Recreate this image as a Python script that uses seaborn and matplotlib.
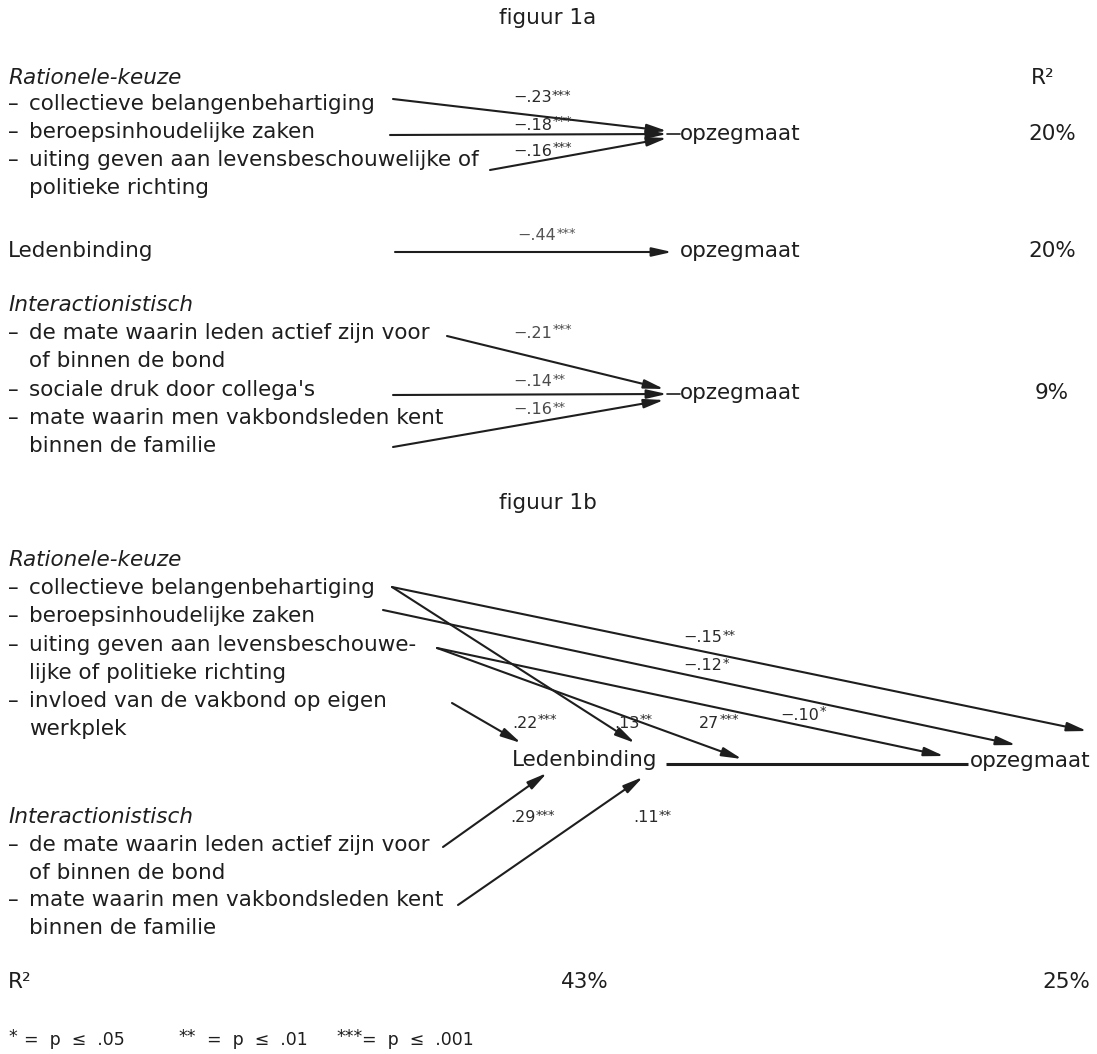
import matplotlib
matplotlib.use("Agg")
import matplotlib.pyplot as plt
import seaborn as sns

sns.set_theme(style="white")
plt.rcParams["font.family"] = ["DejaVu Sans"]

# ---- data -------------------------------------------------------------
titles = ["figuur 1a", "figuur 1b"]

# figure 1a: three separate regressions on "opzegmaat"
rational_1a = ["collectieve belangenbehartiging",
               "beroepsinhoudelijke zaken",
               "uiting geven aan levensbeschouwelijke of\npolitieke richting"]
rational_1a_beta = [-0.23, -0.18, -0.16]
rational_1a_sig = ["***", "***", "***"]

binding_1a_beta = [-0.44]
binding_1a_sig = ["***"]

interact_1a = ["de mate waarin leden actief zijn voor\nof binnen de bond",
               "sociale druk door collega's",
               "mate waarin men vakbondsleden kent\nbinnen de familie"]
interact_1a_beta = [-0.21, -0.14, -0.16]
interact_1a_sig = ["***", "**", "**"]

r2_1a = [20, 20, 9]

# figure 1b: path model
rational_1b = ["collectieve belangenbehartiging",
               "beroepsinhoudelijke zaken",
               "uiting geven aan levensbeschouwe-\nlijke of politieke richting",
               "invloed van de vakbond op eigen\nwerkplek"]
interact_1b = ["de mate waarin leden actief zijn voor\nof binnen de bond",
               "mate waarin men vakbondsleden kent\nbinnen de familie"]
# direct effects on opzegmaat
direct_1b_beta = [-0.15, -0.12, -0.10]
direct_1b_sig = ["**", "*", "*"]
# effects on Ledenbinding (printed labels as they appear in the figure)
binding_1b_beta = [0.22, 0.13, 0.27, 0.29, 0.11]
binding_1b_text = [".22", ".13", "27", ".29", ".11"]
binding_1b_sig = ["***", "**", "***", "***", "**"]
r2_1b = [43, 25]

foot_marks = ["*", "**", "***"]
foot_levels = [".05", ".01", ".001"]


def coef_num(b):
    return ("\u2212" if b < 0 else "") + f"{abs(b):.2f}"[1:]


# ---- figure -----------------------------------------------------------
W, H = 1097, 1054
fig = plt.figure(figsize=(W / 100, H / 100), dpi=100)
ax = fig.add_axes([0, 0, 1, 1])
ax.set_xlim(0, W)
ax.set_ylim(H, 0)
ax.axis("off")
sns.despine(ax=ax, left=True, bottom=True)
renderer = fig.canvas.get_renderer()

INK = "#1e1e1e"
FS = 15.5
FS_C = 11.5
LH = 28.3


def txt(x, y, s, **kw):
    kw.setdefault("fontsize", FS)
    kw.setdefault("color", INK)
    kw.setdefault("va", "center")
    return ax.text(x, y, s, **kw)


def item(y, s):
    txt(8, y, "\u2013")
    for k, ln in enumerate(s.split("\n")):
        txt(29, y + k * LH, ln)


def arrow(p0, p1, lw=1.5, color=INK):
    style = "-|>,head_length=1.2,head_width=0.27"
    ax.annotate("", xy=p1, xytext=p0,
                arrowprops=dict(arrowstyle=style, color=color, lw=lw,
                                mutation_scale=10, shrinkA=0, shrinkB=0))


def with_stars(x, y, main, stars, fs, color):
    # main text followed by small raised significance stars
    t = txt(x, y, main, fontsize=fs, ha="left", color=color)
    bb = t.get_window_extent(renderer)
    x_end = ax.transData.inverted().transform((bb.x1, bb.y0))[0]
    txt(x_end + 0.5, y - 3, stars, fontsize=fs * 0.82, ha="left", color=color)


def clabel(x, y, main, s, color="#2a2a2a"):
    with_stars(x, y, main, s, FS_C, color)


# ---------------- figuur 1a ----------------
txt(548, 18, titles[0], ha="center")
txt(8, 78, "Rationele-keuze", style="italic")
txt(1031, 78, "R\u00b2")
for y, s in zip([104, 132, 160], rational_1a):
    item(y, s)

starts_1a = [(393, 99), (390, 135), (490, 170)]
ends_1a = [(667, 131), (667, 134), (667, 138)]
clab_1a = [(513, 98), (513, 125), (513, 151)]
for p0, p1, pl, b, s in zip(starts_1a, ends_1a, clab_1a,
                            rational_1a_beta, rational_1a_sig):
    arrow(p0, p1)
    clabel(*pl, coef_num(b), s)
ax.plot([667, 680], [134, 134], color=INK, lw=1.2)
txt(680, 134, "opzegmaat")
txt(1028, 134, f"{r2_1a[0]}%")

txt(8, 251, "Ledenbinding")
arrow((395, 252), (672, 252))
clabel(517, 236, coef_num(binding_1a_beta[0]), binding_1a_sig[0],
       color="#555555")
txt(680, 251, "opzegmaat")
txt(1028, 251, f"{r2_1a[1]}%")

txt(8, 305, "Interactionistisch", style="italic")
for y, s in zip([333, 390, 418], interact_1a):
    item(y, s)
starts_1a_i = [(447, 336), (393, 395), (393, 447)]
ends_1a_i = [(664, 389), (667, 394), (664, 400)]
clab_1a_i = [(513, 333), (513, 382), (513, 410)]
for p0, p1, pl, b, s in zip(starts_1a_i, ends_1a_i, clab_1a_i,
                            interact_1a_beta, interact_1a_sig):
    arrow(p0, p1)
    clabel(*pl, coef_num(b), s, color="#4a4a4a")
ax.plot([667, 680], [394, 394], color=INK, lw=1.2)
txt(680, 393, "opzegmaat")
txt(1035, 393, f"{r2_1a[2]}%")

# ---------------- figuur 1b ----------------
txt(548, 503, titles[1], ha="center")
txt(8, 560, "Rationele-keuze", style="italic")
for y, s in zip([588, 616, 645, 701], rational_1b):
    item(y, s)

txt(8, 817, "Interactionistisch", style="italic")
for y, s in zip([845, 900], interact_1b):
    item(y, s)

txt(585, 760, "Ledenbinding", ha="center")
txt(970, 761, "opzegmaat")
ax.plot([666, 968], [764, 764], color=INK, lw=2.2, solid_capstyle="butt")

# direct paths to opzegmaat
starts_d = [(392, 587), (383, 610), (437, 648)]
ends_d = [(1087, 731), (1016, 745), (944, 756)]
clab_d = [(683, 638), (683, 666), (780, 715)]
for p0, p1, pl, b, s in zip(starts_d, ends_d, clab_d,
                            direct_1b_beta, direct_1b_sig):
    arrow(p0, p1)
    clabel(*pl, coef_num(b), s)

# paths to Ledenbinding
starts_b = [(452, 703), (392, 587), (437, 648), (443, 847), (458, 905)]
ends_b = [(521, 743), (635, 743), (742, 759), (547, 773), (643, 777)]
clab_b = [(512, 723), (614, 723), (699, 723), (510, 818), (633, 818)]
for p0, p1, pl, lab, s in zip(starts_b, ends_b, clab_b,
                              binding_1b_text, binding_1b_sig):
    arrow(p0, p1)
    clabel(*pl, lab, s)

txt(8, 982, "R\u00b2")
txt(585, 982, f"{r2_1b[0]}%", ha="center")
txt(1042, 982, f"{r2_1b[1]}%")

for xm, xs, m, lv in zip([8, 178, 336], [24, 207, 362], foot_marks, foot_levels):
    txt(xm, 1037, m, fontsize=12.5)
    txt(xs, 1040, "=  p  \u2264  " + lv, fontsize=12.5)

fig.savefig("out.png", dpi=100, facecolor="white")
